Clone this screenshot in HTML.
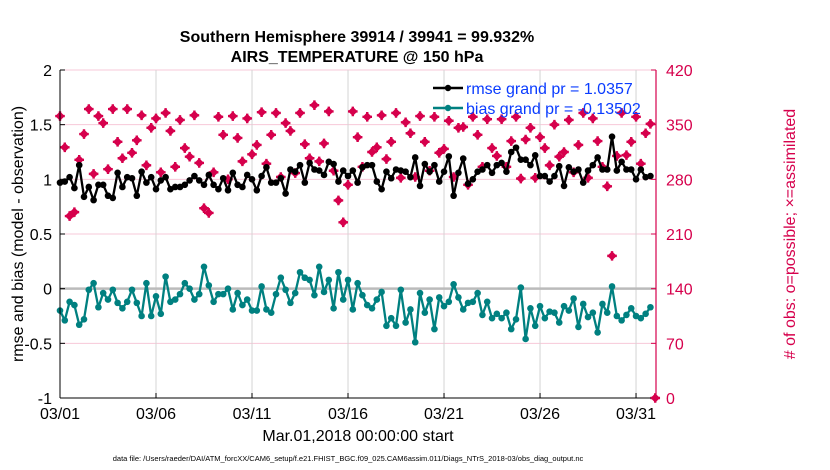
<!DOCTYPE html>
<html><head><meta charset="utf-8"><style>
body{margin:0;background:#fff;}
svg{display:block;font-family:"Liberation Sans",Arial,sans-serif;}
</style></head><body>
<svg id="chart" width="830" height="470" viewBox="0 0 830 470" xmlns="http://www.w3.org/2000/svg">
<g id="grid"></g><g id="series"></g><g id="axes"></g>
<text x="357" y="42" font-size="16" font-weight="bold" text-anchor="middle">Southern Hemisphere 39914 / 39941 = 99.932%</text>
<text x="357" y="62" font-size="16" font-weight="bold" text-anchor="middle">AIRS_TEMPERATURE @ 150 hPa</text>
<text transform="translate(23,234) rotate(-90)" font-size="16" text-anchor="middle">rmse and bias (model - observation)</text>
<text transform="translate(795,234) rotate(-90)" font-size="16" fill="#d6004c" text-anchor="middle"># of obs: o=possible; ×=assimilated</text>
<text x="358" y="441" font-size="16" text-anchor="middle">Mar.01,2018 00:00:00 start</text>
<text x="348" y="461" font-size="7.5" text-anchor="middle">data file: /Users/raeder/DAI/ATM_forcXX/CAM6_setup/f.e21.FHIST_BGC.f09_025.CAM6assim.011/Diags_NTrS_2018-03/obs_diag_output.nc</text>
<g>
<line x1="433" y1="88" x2="463" y2="88" stroke="#000" stroke-width="2.5"/><circle cx="448" cy="88" r="3.2" fill="#000"/>
<text x="466" y="94" font-size="16" fill="#0a3cff">rmse grand pr = 1.0357</text>
<line x1="433" y1="108" x2="463" y2="108" stroke="#008080" stroke-width="2.5"/><circle cx="448" cy="108" r="3.2" fill="#008080"/>
<text x="466" y="114" font-size="16" fill="#0a3cff">bias grand pr = -0.13502</text>
</g>
</svg>
<script>
const rmse=[0.97,0.98,1.02,0.92,1.13,0.84,0.93,0.81,0.95,0.95,0.85,0.83,1.06,0.93,1.02,1.01,0.85,1.07,0.97,1.02,0.91,0.99,1.02,0.91,0.93,0.93,0.95,0.99,1.03,0.99,0.95,1.04,0.95,
0.91,1.01,0.9,1.06,0.95,0.93,1.04,1.0,0.9,1.03,1.11,0.97,0.97,1.01,0.87,1.09,1.07,1.13,0.97,1.15,1.09,1.08,1.04,1.16,1.14,0.98,1.08,1.03,1.08,0.97,1.11,
1.13,1.13,0.98,0.91,1.07,1.01,1.09,1.08,1.07,1.02,1.2,0.94,1.14,1.07,1.13,0.98,1.07,1.21,0.85,1.06,1.19,0.96,1.0,1.07,1.09,1.13,1.06,1.13,1.15,1.07,1.25,
1.29,1.18,1.18,1.13,1.22,1.03,1.03,0.98,1.03,1.12,0.94,1.11,1.07,1.09,0.97,1.08,1.13,1.2,1.09,1.09,1.39,1.08,1.16,1.09,1.09,1.0,1.09,1.02,1.03];
const bias=[-0.2,-0.29,-0.12,-0.15,-0.33,-0.28,-0.01,0.05,-0.17,-0.04,-0.1,-0.01,-0.13,-0.18,-0.12,-0.01,-0.13,-0.25,0.05,-0.25,-0.07,-0.23,0.11,-0.12,-0.1,-0.05,0.05,0.0,-0.1,-0.05,0.2,0.03,-0.12,
-0.05,-0.05,0.0,-0.19,-0.04,-0.15,-0.1,-0.2,-0.2,0.02,-0.19,-0.22,-0.05,0.1,-0.01,-0.13,-0.04,0.15,0.1,0.08,-0.06,0.2,-0.03,0.08,-0.18,0.15,-0.1,0.08,-0.19,0.05,-0.06,
-0.15,-0.18,-0.1,-0.03,-0.34,-0.27,-0.34,-0.01,-0.31,-0.19,-0.49,-0.04,-0.22,-0.1,-0.37,-0.08,-0.16,-0.12,0.04,-0.08,-0.19,-0.13,-0.12,-0.04,-0.24,-0.12,-0.27,-0.23,-0.27,-0.22,-0.37,
-0.28,0.01,-0.46,-0.18,-0.34,-0.16,-0.27,-0.21,-0.22,-0.31,-0.16,-0.2,-0.09,-0.35,-0.14,-0.26,-0.22,-0.4,-0.14,-0.22,0.02,-0.25,-0.29,-0.24,-0.18,-0.25,-0.27,-0.23,-0.17];
const nobs=[361,321,233,238,305,338,370,287,361,352,293,370,328,307,370,314,330,362,298,346,358,289,365,342,296,356,320,309,362,301,243,237,289,
360,337,280,361,333,303,358,312,324,366,300,337,365,283,352,342,288,365,325,307,375,303,326,367,291,253,225,273,367,334,296,
360,315,321,362,306,328,365,282,353,339,283,361,328,291,360,314,319,355,283,346,347,273,360,337,296,357,320,310,357,296,329,
360,281,331,346,282,334,320,298,350,309,315,356,289,324,365,282,358,329,296,271,182,310,365,311,328,360,300,339,351,0];
const xTickLabels=["03/01","03/06","03/11","03/16","03/21","03/26","03/31"];
const xTickDays=[0,5,10,15,20,25,30];
const leftTicks=[-1,-0.5,0,0.5,1,1.5,2];
const rightTicks=[0,70,140,210,280,350,420];
const stepDays=0.25;

const X0=60,X1=656,Y0=70,Y1=398,DMAX=31.04;
const xS=d=>X0+(d/DMAX)*(X1-X0);
const yL=v=>Y1-(v+1)/3*(Y1-Y0);
const yR=v=>Y1-v/420*(Y1-Y0);
const NS="http://www.w3.org/2000/svg";
function mk(tag,attrs,parent){const e=document.createElementNS(NS,tag);for(const k in attrs)e.setAttribute(k,attrs[k]);parent.appendChild(e);return e;}
const grid=document.getElementById('grid'),ser=document.getElementById('series'),axes=document.getElementById('axes');
mk('rect',{x:X0,y:Y0,width:X1-X0,height:Y1-Y0,fill:'#fff'},grid);
rightTicks.forEach(t=>{const l=mk('line',{x1:X0,x2:X1,y1:yR(t),y2:yR(t),stroke:'#f7c8d8','stroke-width':1},grid);

});
xTickDays.forEach(d=>{const l=mk('line',{x1:xS(d),x2:xS(d),y1:Y0,y2:Y1,stroke:'#d4d4d4','stroke-width':1},grid);

});
const z=mk('line',{x1:X0,x2:X1,y1:yL(0),y2:yL(0),stroke:'#bbb','stroke-width':2.5},grid);


nobs.forEach((v,i)=>{const cx=xS(i*stepDays),cy=yR(v);
const g=mk('g',{},ser);


mk('rect',{x:cx-3.3,y:cy-3.3,width:6.6,height:6.6,fill:'#d6004c',transform:`rotate(45 ${cx} ${cy})`},g);
mk('path',{d:`M${cx-4.8} ${cy}H${cx+4.8}M${cx} ${cy-4.8}V${cy+4.8}`,stroke:'#d6004c','stroke-width':2.4},g);});
function line(arr,color,name){
const pts=arr.map((v,i)=>xS(i*stepDays).toFixed(1)+','+yL(v).toFixed(1)).join(' ');
const p=mk('polyline',{points:pts,fill:'none',stroke:color,'stroke-width':2.3,'stroke-linejoin':'round'},ser);


arr.forEach((v,i)=>{const c=mk('circle',{cx:xS(i*stepDays),cy:yL(v),r:3.3,fill:color},ser);

});}
line(bias,'#008080','bias');
line(rmse,'#000','rmse');
const la=mk('line',{x1:X0,x2:X0,y1:Y0,y2:Y1,stroke:'#000','stroke-width':1},axes);


const ba=mk('line',{x1:X0,x2:X1,y1:Y1,y2:Y1,stroke:'#000','stroke-width':1},axes);


const ra=mk('line',{x1:X1,x2:X1,y1:Y0,y2:Y1,stroke:'#d6004c','stroke-width':1.2},axes);


leftTicks.forEach(t=>{mk('line',{x1:X0,x2:X0+5,y1:yL(t),y2:yL(t),stroke:'#000'},axes);
const tx=mk('text',{x:X0-8,y:yL(t)+6,'font-size':16,'text-anchor':'end'},axes);tx.textContent=String(t);

});
rightTicks.forEach(t=>{mk('line',{x1:X1-5,x2:X1,y1:yR(t),y2:yR(t),stroke:'#d6004c'},axes);
const tx=mk('text',{x:X1+10,y:yR(t)+6,'font-size':16,fill:'#d6004c'},axes);tx.textContent=String(t);

});
xTickDays.forEach((d,i)=>{mk('line',{x1:xS(d),x2:xS(d),y1:Y1,y2:Y1-5,stroke:'#000'},axes);
const tx=mk('text',{x:xS(d),y:Y1+21,'font-size':16,'text-anchor':'middle'},axes);tx.textContent=xTickLabels[i];

});
</script>
</body></html>
